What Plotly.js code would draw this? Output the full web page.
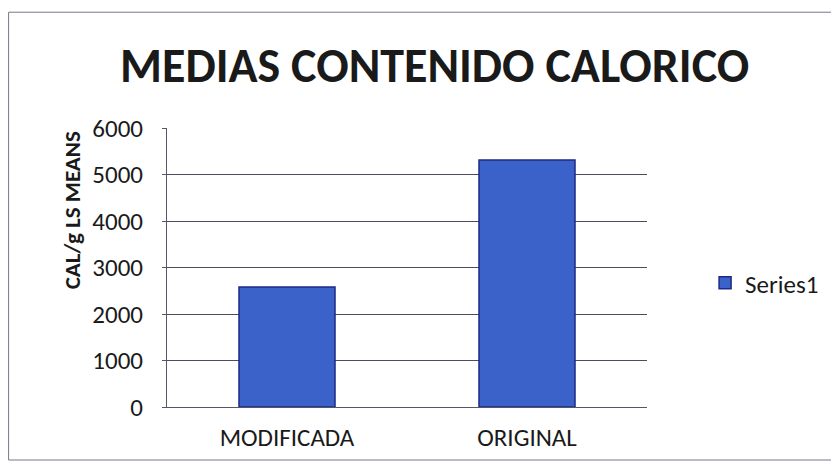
<!DOCTYPE html>
<html>
<head>
<meta charset="utf-8">
<script src="https://cdn.plot.ly/plotly-3.0.1.min.js"></script>
<style>
html,body{margin:0;padding:0;background:#fff;}
#chart{width:831px;height:473px;}
</style>
</head>
<body>
<div id="chart"></div>
<script>
const categories = ["MODIFICADA", "ORIGINAL"];
const series1 = [2580, 5310];
const seriesName = "Series1";
const tickVals = [0, 1000, 2000, 3000, 4000, 5000, 6000];
const yTitle = "CAL/g LS MEANS";
const chartTitle = "MEDIAS CONTENIDO CALORICO";

const fontFam = "Carlito, 'Open Sans', 'Liberation Sans', sans-serif";

Plotly.newPlot("chart", [{
  type: "bar",
  x: categories,
  y: series1,
  name: seriesName,
  marker: {color: "#3a62c8", line: {color: "#1c2a86", width: 1.5}},
  showlegend: true
}], {
  width: 831, height: 473,
  margin: {l: 167, r: 184, t: 128, b: 66, autoexpand: false},
  paper_bgcolor: "#ffffff",
  plot_bgcolor: "#ffffff",
  bargap: 0.6,
  title: {text: "<b>" + chartTitle + "</b>", x: 0.523, xanchor: "center", y: 0.862, yanchor: "middle",
          font: {family: fontFam, size: 48, color: "#1a1a1a"}},
  xaxis: {
    showgrid: false, showline: true, linecolor: "#55566a", linewidth: 1,
    ticks: "", ticklabelstandoff: 8,
    tickfont: {family: fontFam, size: 25, color: "#1a1a1a"}
  },
  yaxis: {
    range: [0, 6000], tickvals: tickVals, ticktext: tickVals.map(String),
    showgrid: true, gridcolor: "#4c4c5c", gridwidth: 1,
    showline: true, linecolor: "#55566a", linewidth: 1,
    ticks: "outside", ticklen: 4, tickcolor: "#55566a", ticklabelstandoff: 14,
    tickfont: {family: fontFam, size: 25, color: "#1a1a1a"}
  },
  annotations: [{
    text: "<b>" + yTitle + "</b>", textangle: -90, xref: "paper", yref: "paper",
    x: (72 - 167) / 480, y: 0.705, xanchor: "center", yanchor: "middle", showarrow: false,
    font: {family: fontFam, size: 23, color: "#1a1a1a"}
  }],
  legend: {x: 1.121, xanchor: "left", y: 0.444, yanchor: "middle",
           font: {family: fontFam, size: 25, color: "#1a1a1a"}},
  shapes: [{type: "rect", xref: "paper", yref: "paper", x0: -0.33, x1: 1.39, y0: -0.19, y1: 1.415,
            line: {color: "#777788", width: 1}, fillcolor: "rgba(0,0,0,0)"}]
}, {displayModeBar: false, staticPlot: true});
</script>
</body>
</html>
